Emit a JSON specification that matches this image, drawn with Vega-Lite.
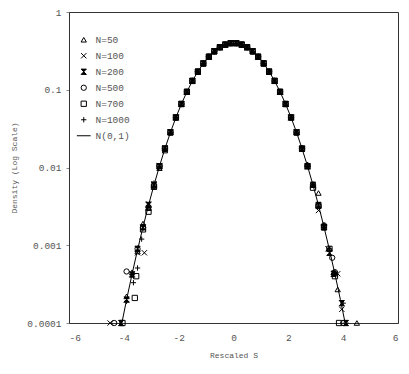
{
  "$schema": "https://vega.github.io/schema/vega-lite/v6.json",
  "autosize": {"type": "none"},
  "padding": {"left": 69, "top": 12, "right": 11, "bottom": 51},
  "width": 329,
  "height": 311,
  "background": "white",
  "config": {
    "font": "Liberation Mono",
    "view": {"stroke": "#333", "strokeWidth": 1},
    "axis": {"labelFont": "Liberation Mono", "titleFont": "Liberation Mono", "labelFontSize": 9.5, "titleFontSize": 8, "labelColor": "#555", "titleColor": "#555", "titleFontWeight": "normal", "domainColor": "#333", "tickColor": "#888", "grid": false},
    "legend": {"labelFont": "Liberation Mono", "labelFontSize": 9.5, "labelColor": "#555"}
  },
  "datasets": {
    "pts": [
      {"s":"N=50","x":-2.7,"y":0.0098},{"s":"N=50","x":-2.5,"y":0.0165},{"s":"N=50","x":-2.3,"y":0.0283},{"s":"N=50","x":-2.1,"y":0.044},{"s":"N=50","x":-1.9,"y":0.0656},{"s":"N=50","x":-1.7,"y":0.094},{"s":"N=50","x":-1.5,"y":0.130},{"s":"N=50","x":-1.3,"y":0.171},{"s":"N=50","x":-1.1,"y":0.218},{"s":"N=50","x":-0.9,"y":0.266},{"s":"N=50","x":-0.7,"y":0.312},{"s":"N=50","x":-0.5,"y":0.352},{"s":"N=50","x":-0.3,"y":0.381},{"s":"N=50","x":-0.1,"y":0.397},
      {"s":"N=50","x":0.1,"y":0.397},{"s":"N=50","x":0.3,"y":0.381},{"s":"N=50","x":0.5,"y":0.352},{"s":"N=50","x":0.7,"y":0.312},{"s":"N=50","x":0.9,"y":0.266},{"s":"N=50","x":1.1,"y":0.218},{"s":"N=50","x":1.3,"y":0.171},{"s":"N=50","x":1.5,"y":0.130},{"s":"N=50","x":1.7,"y":0.094},{"s":"N=50","x":1.9,"y":0.0656},{"s":"N=50","x":2.1,"y":0.044},{"s":"N=50","x":2.3,"y":0.0283},{"s":"N=50","x":2.5,"y":0.0180},{"s":"N=50","x":2.7,"y":0.0110},
      {"s":"N=50","x":-2.9,"y":0.0056},{"s":"N=50","x":-3.1,"y":0.0030},{"s":"N=50","x":-3.3,"y":0.0019},{"s":"N=50","x":-3.5,"y":0.00083},{"s":"N=50","x":-3.7,"y":0.00045},{"s":"N=50","x":-3.9,"y":0.00022},
      {"s":"N=50","x":2.9,"y":0.0060},{"s":"N=50","x":3.1,"y":0.0047},{"s":"N=50","x":3.3,"y":0.0018},{"s":"N=50","x":3.5,"y":0.0009},{"s":"N=50","x":3.65,"y":0.00045},{"s":"N=50","x":3.8,"y":0.00027},{"s":"N=50","x":4.5,"y":0.0001},

      {"s":"N=100","x":-2.7,"y":0.0106},{"s":"N=100","x":-2.5,"y":0.0178},{"s":"N=100","x":-2.3,"y":0.0283},{"s":"N=100","x":-2.1,"y":0.044},{"s":"N=100","x":-1.9,"y":0.0656},{"s":"N=100","x":-1.7,"y":0.094},{"s":"N=100","x":-1.5,"y":0.130},{"s":"N=100","x":-1.3,"y":0.171},{"s":"N=100","x":-1.1,"y":0.218},{"s":"N=100","x":-0.9,"y":0.266},{"s":"N=100","x":-0.7,"y":0.312},{"s":"N=100","x":-0.5,"y":0.352},{"s":"N=100","x":-0.3,"y":0.381},{"s":"N=100","x":-0.1,"y":0.397},
      {"s":"N=100","x":0.1,"y":0.397},{"s":"N=100","x":0.3,"y":0.381},{"s":"N=100","x":0.5,"y":0.352},{"s":"N=100","x":0.7,"y":0.312},{"s":"N=100","x":0.9,"y":0.266},{"s":"N=100","x":1.1,"y":0.218},{"s":"N=100","x":1.3,"y":0.171},{"s":"N=100","x":1.5,"y":0.130},{"s":"N=100","x":1.7,"y":0.094},{"s":"N=100","x":1.9,"y":0.0656},{"s":"N=100","x":2.1,"y":0.044},{"s":"N=100","x":2.3,"y":0.0283},{"s":"N=100","x":2.5,"y":0.0172},{"s":"N=100","x":2.7,"y":0.0102},
      {"s":"N=100","x":-2.9,"y":0.0062},{"s":"N=100","x":-3.1,"y":0.0034},{"s":"N=100","x":-3.25,"y":0.0008},{"s":"N=100","x":-3.5,"y":0.0008},{"s":"N=100","x":-3.7,"y":0.00043},{"s":"N=100","x":-3.9,"y":0.0002},{"s":"N=100","x":-4.5,"y":0.0001},
      {"s":"N=100","x":2.9,"y":0.0058},{"s":"N=100","x":3.1,"y":0.0028},{"s":"N=100","x":3.3,"y":0.0017},{"s":"N=100","x":3.45,"y":0.0009},{"s":"N=100","x":3.7,"y":0.00043},{"s":"N=100","x":3.8,"y":0.00043},{"s":"N=100","x":3.95,"y":0.00015},

      {"s":"N=200","x":-2.7,"y":0.0104},{"s":"N=200","x":-2.5,"y":0.0175},{"s":"N=200","x":-2.3,"y":0.0283},{"s":"N=200","x":-2.1,"y":0.044},{"s":"N=200","x":-1.9,"y":0.0656},{"s":"N=200","x":-1.7,"y":0.094},{"s":"N=200","x":-1.5,"y":0.130},{"s":"N=200","x":-1.3,"y":0.171},{"s":"N=200","x":-1.1,"y":0.218},{"s":"N=200","x":-0.9,"y":0.266},{"s":"N=200","x":-0.7,"y":0.312},{"s":"N=200","x":-0.5,"y":0.352},{"s":"N=200","x":-0.3,"y":0.381},{"s":"N=200","x":-0.1,"y":0.397},
      {"s":"N=200","x":0.1,"y":0.397},{"s":"N=200","x":0.3,"y":0.381},{"s":"N=200","x":0.5,"y":0.352},{"s":"N=200","x":0.7,"y":0.312},{"s":"N=200","x":0.9,"y":0.266},{"s":"N=200","x":1.1,"y":0.218},{"s":"N=200","x":1.3,"y":0.171},{"s":"N=200","x":1.5,"y":0.130},{"s":"N=200","x":1.7,"y":0.094},{"s":"N=200","x":1.9,"y":0.0656},{"s":"N=200","x":2.1,"y":0.044},{"s":"N=200","x":2.3,"y":0.0283},{"s":"N=200","x":2.5,"y":0.0175},{"s":"N=200","x":2.7,"y":0.0104},
      {"s":"N=200","x":-2.9,"y":0.0060},{"s":"N=200","x":-3.1,"y":0.0033},{"s":"N=200","x":-3.3,"y":0.0017},{"s":"N=200","x":-3.5,"y":0.0009},{"s":"N=200","x":-3.7,"y":0.00042},{"s":"N=200","x":-3.9,"y":0.0002},{"s":"N=200","x":-4.1,"y":0.0001},
      {"s":"N=200","x":2.9,"y":0.0060},{"s":"N=200","x":3.1,"y":0.0033},{"s":"N=200","x":3.3,"y":0.0017},{"s":"N=200","x":3.5,"y":0.0008},{"s":"N=200","x":3.65,"y":0.00043},{"s":"N=200","x":3.95,"y":0.00018},{"s":"N=200","x":4.1,"y":0.0001},

      {"s":"N=500","x":-2.7,"y":0.0104},{"s":"N=500","x":-2.5,"y":0.0175},{"s":"N=500","x":-2.3,"y":0.0283},{"s":"N=500","x":-2.1,"y":0.044},{"s":"N=500","x":-1.9,"y":0.0656},{"s":"N=500","x":-1.7,"y":0.094},{"s":"N=500","x":-1.5,"y":0.130},{"s":"N=500","x":-1.3,"y":0.171},{"s":"N=500","x":-1.1,"y":0.218},{"s":"N=500","x":-0.9,"y":0.266},{"s":"N=500","x":-0.7,"y":0.312},{"s":"N=500","x":-0.5,"y":0.352},{"s":"N=500","x":-0.3,"y":0.381},{"s":"N=500","x":-0.1,"y":0.397},
      {"s":"N=500","x":0.1,"y":0.397},{"s":"N=500","x":0.3,"y":0.381},{"s":"N=500","x":0.5,"y":0.352},{"s":"N=500","x":0.7,"y":0.312},{"s":"N=500","x":0.9,"y":0.266},{"s":"N=500","x":1.1,"y":0.218},{"s":"N=500","x":1.3,"y":0.171},{"s":"N=500","x":1.5,"y":0.130},{"s":"N=500","x":1.7,"y":0.094},{"s":"N=500","x":1.9,"y":0.0656},{"s":"N=500","x":2.1,"y":0.044},{"s":"N=500","x":2.3,"y":0.0283},{"s":"N=500","x":2.5,"y":0.0175},{"s":"N=500","x":2.7,"y":0.0104},
      {"s":"N=500","x":-2.9,"y":0.0058},{"s":"N=500","x":-3.1,"y":0.0031},{"s":"N=500","x":-3.3,"y":0.0017},{"s":"N=500","x":-3.5,"y":0.0009},{"s":"N=500","x":-3.9,"y":0.00046},{"s":"N=500","x":-4.35,"y":0.0001},
      {"s":"N=500","x":2.9,"y":0.0060},{"s":"N=500","x":3.1,"y":0.0032},{"s":"N=500","x":3.3,"y":0.0018},{"s":"N=500","x":3.6,"y":0.00069},{"s":"N=500","x":3.7,"y":0.00045},{"s":"N=500","x":4.0,"y":0.0001},

      {"s":"N=700","x":-2.7,"y":0.0104},{"s":"N=700","x":-2.5,"y":0.0175},{"s":"N=700","x":-2.3,"y":0.0283},{"s":"N=700","x":-2.1,"y":0.044},{"s":"N=700","x":-1.9,"y":0.0656},{"s":"N=700","x":-1.7,"y":0.094},{"s":"N=700","x":-1.5,"y":0.130},{"s":"N=700","x":-1.3,"y":0.171},{"s":"N=700","x":-1.1,"y":0.218},{"s":"N=700","x":-0.9,"y":0.266},{"s":"N=700","x":-0.7,"y":0.312},{"s":"N=700","x":-0.5,"y":0.352},{"s":"N=700","x":-0.3,"y":0.381},{"s":"N=700","x":-0.1,"y":0.397},
      {"s":"N=700","x":0.1,"y":0.397},{"s":"N=700","x":0.3,"y":0.381},{"s":"N=700","x":0.5,"y":0.352},{"s":"N=700","x":0.7,"y":0.312},{"s":"N=700","x":0.9,"y":0.266},{"s":"N=700","x":1.1,"y":0.218},{"s":"N=700","x":1.3,"y":0.171},{"s":"N=700","x":1.5,"y":0.130},{"s":"N=700","x":1.7,"y":0.094},{"s":"N=700","x":1.9,"y":0.0656},{"s":"N=700","x":2.1,"y":0.044},{"s":"N=700","x":2.3,"y":0.0283},{"s":"N=700","x":2.5,"y":0.0175},{"s":"N=700","x":2.7,"y":0.0104},
      {"s":"N=700","x":-2.9,"y":0.0057},{"s":"N=700","x":-3.1,"y":0.0027},{"s":"N=700","x":-3.3,"y":0.0016},{"s":"N=700","x":-3.55,"y":0.0004},{"s":"N=700","x":-3.6,"y":0.00021},{"s":"N=700","x":-4.05,"y":0.0001},
      {"s":"N=700","x":2.9,"y":0.0055},{"s":"N=700","x":3.1,"y":0.0032},{"s":"N=700","x":3.3,"y":0.0017},{"s":"N=700","x":3.5,"y":0.0009},{"s":"N=700","x":3.7,"y":0.0004},{"s":"N=700","x":3.85,"y":0.0001},

      {"s":"N=1000","x":-2.7,"y":0.0104},{"s":"N=1000","x":-2.5,"y":0.0175},{"s":"N=1000","x":-2.3,"y":0.0283},{"s":"N=1000","x":-2.1,"y":0.044},{"s":"N=1000","x":-1.9,"y":0.0656},{"s":"N=1000","x":-1.7,"y":0.094},{"s":"N=1000","x":-1.5,"y":0.130},{"s":"N=1000","x":-1.3,"y":0.171},{"s":"N=1000","x":-1.1,"y":0.218},{"s":"N=1000","x":-0.9,"y":0.266},{"s":"N=1000","x":-0.7,"y":0.312},{"s":"N=1000","x":-0.5,"y":0.352},{"s":"N=1000","x":-0.3,"y":0.381},{"s":"N=1000","x":-0.1,"y":0.397},
      {"s":"N=1000","x":0.1,"y":0.397},{"s":"N=1000","x":0.3,"y":0.381},{"s":"N=1000","x":0.5,"y":0.352},{"s":"N=1000","x":0.7,"y":0.312},{"s":"N=1000","x":0.9,"y":0.266},{"s":"N=1000","x":1.1,"y":0.218},{"s":"N=1000","x":1.3,"y":0.171},{"s":"N=1000","x":1.5,"y":0.130},{"s":"N=1000","x":1.7,"y":0.094},{"s":"N=1000","x":1.9,"y":0.0656},{"s":"N=1000","x":2.1,"y":0.044},{"s":"N=1000","x":2.3,"y":0.0283},{"s":"N=1000","x":2.5,"y":0.0175},{"s":"N=1000","x":2.7,"y":0.0104},
      {"s":"N=1000","x":-2.9,"y":0.0063},{"s":"N=1000","x":-3.1,"y":0.0032},{"s":"N=1000","x":-3.35,"y":0.0012},{"s":"N=1000","x":-3.5,"y":0.00051},{"s":"N=1000","x":-3.65,"y":0.00033},{"s":"N=1000","x":-3.9,"y":0.00019},
      {"s":"N=1000","x":2.9,"y":0.0060},{"s":"N=1000","x":3.1,"y":0.0033},{"s":"N=1000","x":3.3,"y":0.0018},{"s":"N=1000","x":3.5,"y":0.0009},{"s":"N=1000","x":3.7,"y":0.00045},{"s":"N=1000","x":4.0,"y":0.00018},{"s":"N=1000","x":4.1,"y":0.0001}
    ],
    "curve": [
      {"x":-4.1,"y":0.0000893},{"x":-3.9,"y":0.000199},{"x":-3.7,"y":0.000425},{"x":-3.5,"y":0.000873},{"x":-3.3,"y":0.00172},{"x":-3.1,"y":0.00327},{"x":-2.9,"y":0.00595},{"x":-2.7,"y":0.0104},{"x":-2.5,"y":0.0175},{"x":-2.3,"y":0.0283},{"x":-2.1,"y":0.044},{"x":-1.9,"y":0.0656},{"x":-1.7,"y":0.094},{"x":-1.5,"y":0.1295},{"x":-1.3,"y":0.1714},{"x":-1.1,"y":0.2179},{"x":-0.9,"y":0.2661},{"x":-0.7,"y":0.3123},{"x":-0.5,"y":0.3521},{"x":-0.3,"y":0.3814},{"x":-0.1,"y":0.397},
      {"x":0.1,"y":0.397},{"x":0.3,"y":0.3814},{"x":0.5,"y":0.3521},{"x":0.7,"y":0.3123},{"x":0.9,"y":0.2661},{"x":1.1,"y":0.2179},{"x":1.3,"y":0.1714},{"x":1.5,"y":0.1295},{"x":1.7,"y":0.094},{"x":1.9,"y":0.0656},{"x":2.1,"y":0.044},{"x":2.3,"y":0.0283},{"x":2.5,"y":0.0175},{"x":2.7,"y":0.0104},{"x":2.9,"y":0.00595},{"x":3.1,"y":0.00327},{"x":3.3,"y":0.00172},{"x":3.5,"y":0.000873},{"x":3.7,"y":0.000425},{"x":3.9,"y":0.000199},{"x":4.1,"y":0.0000893}
    ]
  },
  "layer": [
    {
      "data": {"name": "curve"},
      "mark": {"type": "line", "color": "black", "strokeWidth": 1, "clip": true},
      "encoding": {
        "x": {"field": "x", "type": "quantitative", "scale": {"domain": [-6, 6], "nice": false}, "axis": {"values": [-6,-4,-2,0,2,4,6], "labelExpr": "'' + datum.value", "title": "Rescaled S", "ticks": false, "labelPadding": 9, "titlePadding": 10}},
        "y": {"field": "y", "type": "quantitative", "scale": {"type": "log", "domain": [0.0001, 1], "nice": false}, "axis": {"values": [0.0001, 0.001, 0.01, 0.1, 1], "format": "~g", "title": "Density (Log Scale)", "tickSize": 3, "labelPadding": 5, "titlePadding": 8}}
      }
    },
    {
      "data": {"name": "pts"},
      "mark": {"type": "point", "filled": false, "color": "black", "strokeWidth": 1, "opacity": 1},
      "encoding": {
        "x": {"field": "x", "type": "quantitative"},
        "y": {"field": "y", "type": "quantitative"},
        "shape": {"field": "s", "type": "nominal",
          "scale": {"domain": ["N=50","N=100","N=200","N=500","N=700","N=1000","N(0,1)"],
                    "range": ["triangle-up", "M-1,-1L1,1M-1,1L1,-1", "M-1,-1L1,-1L-1,1L1,1Z", "circle", "square", "M-1,0L1,0M0,-1L0,1", "M-2.6,0L2.6,0"]},
          "legend": {"title": null, "orient": "none", "legendX": 10, "legendY": 23, "padding": 0, "rowPadding": 5, "labelOffset": 7, "symbolStrokeColor": "black", "symbolStrokeWidth": 1}},
        "fill": {"field": "s", "type": "nominal",
          "scale": {"domain": ["N=50","N=100","N=200","N=500","N=700","N=1000","N(0,1)"],
                    "range": ["transparent","transparent","black","transparent","transparent","transparent","transparent"]}},
        "size": {"field": "s", "type": "nominal",
          "scale": {"domain": ["N=50","N=100","N=200","N=500","N=700","N=1000","N(0,1)"],
                    "range": [28, 28, 28, 28, 28, 28, 28]}}
      }
    }
  ]
}
